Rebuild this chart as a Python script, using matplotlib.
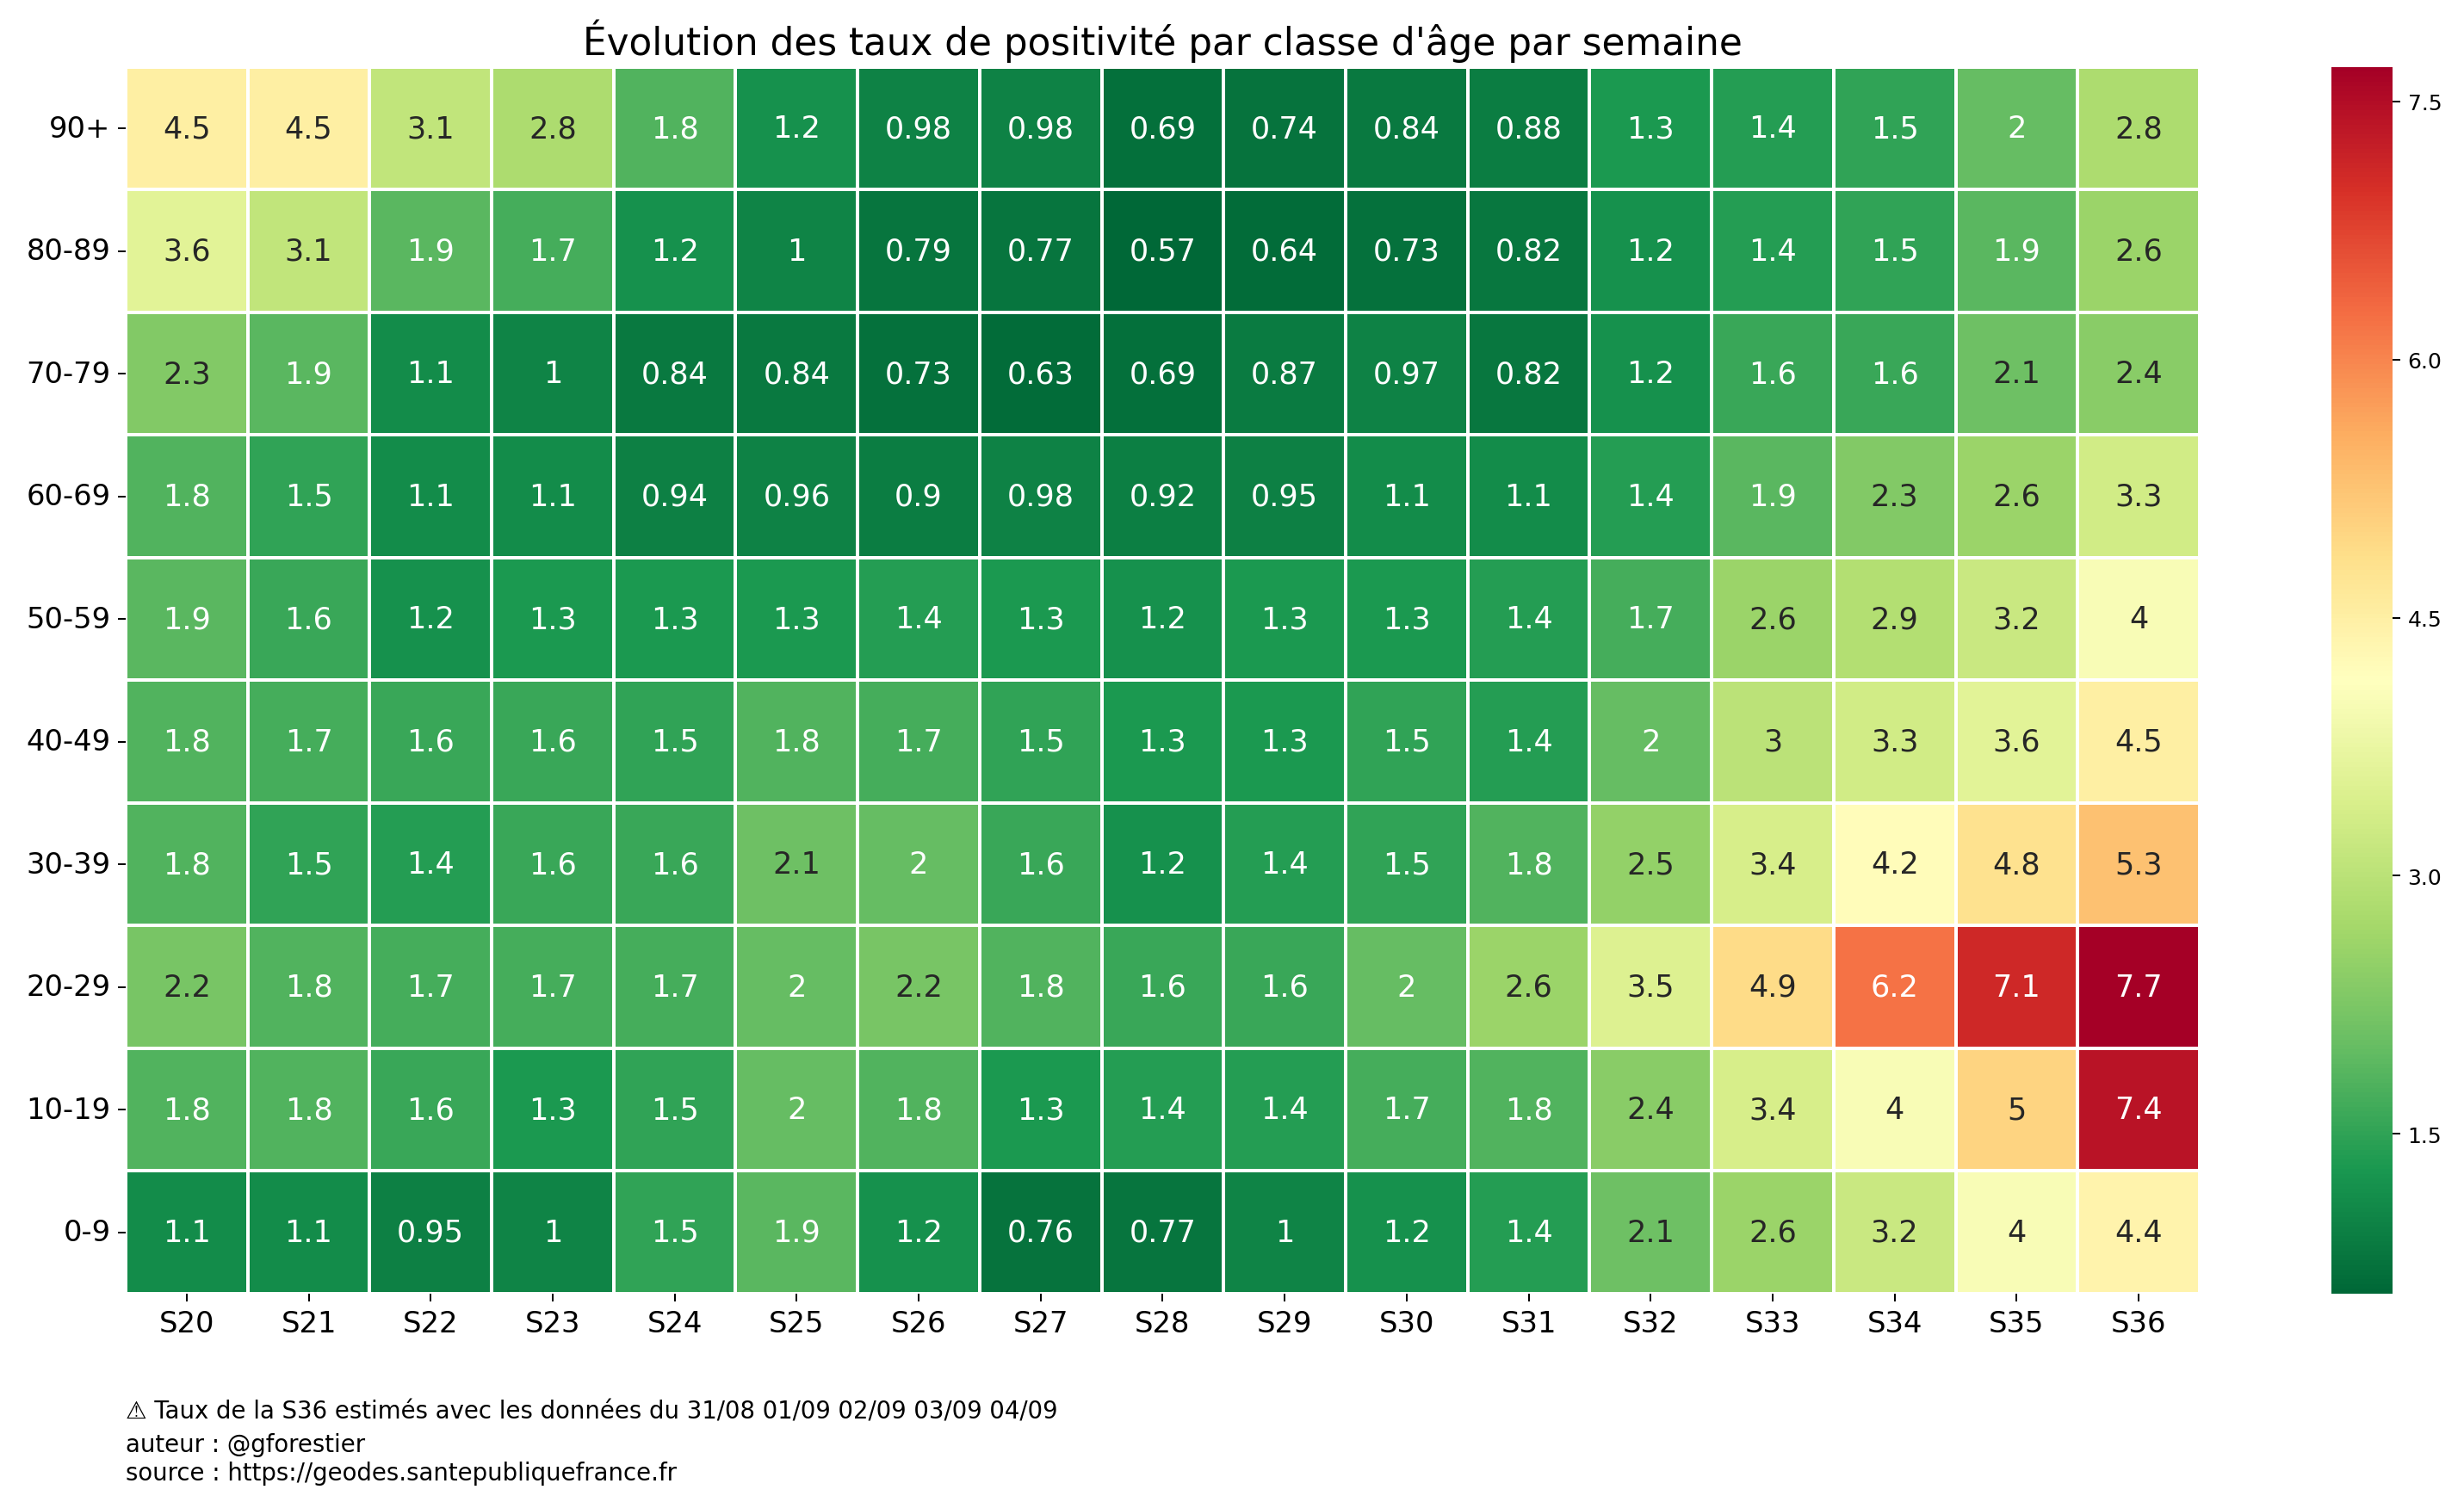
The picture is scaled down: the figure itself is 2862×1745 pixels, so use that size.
import numpy as np
import pandas as pd
import matplotlib
matplotlib.use("Agg")
import matplotlib.pyplot as plt
import seaborn as sns
from matplotlib.ticker import MultipleLocator, FormatStrFormatter

semaines = ["S20", "S21", "S22", "S23", "S24", "S25", "S26", "S27", "S28",
            "S29", "S30", "S31", "S32", "S33", "S34", "S35", "S36"]
classes = ["90+", "80-89", "70-79", "60-69", "50-59", "40-49",
           "30-39", "20-29", "10-19", "0-9"]

t_90 = [4.5, 4.5, 3.1, 2.8, 1.8, 1.2, 0.98, 0.98, 0.69, 0.74, 0.84, 0.88, 1.3, 1.4, 1.5, 2, 2.8]
t_80 = [3.6, 3.1, 1.9, 1.7, 1.2, 1, 0.79, 0.77, 0.57, 0.64, 0.73, 0.82, 1.2, 1.4, 1.5, 1.9, 2.6]
t_70 = [2.3, 1.9, 1.1, 1, 0.84, 0.84, 0.73, 0.63, 0.69, 0.87, 0.97, 0.82, 1.2, 1.6, 1.6, 2.1, 2.4]
t_60 = [1.8, 1.5, 1.1, 1.1, 0.94, 0.96, 0.9, 0.98, 0.92, 0.95, 1.1, 1.1, 1.4, 1.9, 2.3, 2.6, 3.3]
t_50 = [1.9, 1.6, 1.2, 1.3, 1.3, 1.3, 1.4, 1.3, 1.2, 1.3, 1.3, 1.4, 1.7, 2.6, 2.9, 3.2, 4]
t_40 = [1.8, 1.7, 1.6, 1.6, 1.5, 1.8, 1.7, 1.5, 1.3, 1.3, 1.5, 1.4, 2, 3, 3.3, 3.6, 4.5]
t_30 = [1.8, 1.5, 1.4, 1.6, 1.6, 2.1, 2, 1.6, 1.2, 1.4, 1.5, 1.8, 2.5, 3.4, 4.2, 4.8, 5.3]
t_20 = [2.2, 1.8, 1.7, 1.7, 1.7, 2, 2.2, 1.8, 1.6, 1.6, 2, 2.6, 3.5, 4.9, 6.2, 7.1, 7.7]
t_10 = [1.8, 1.8, 1.6, 1.3, 1.5, 2, 1.8, 1.3, 1.4, 1.4, 1.7, 1.8, 2.4, 3.4, 4, 5, 7.4]
t_0 = [1.1, 1.1, 0.95, 1, 1.5, 1.9, 1.2, 0.76, 0.77, 1, 1.2, 1.4, 2.1, 2.6, 3.2, 4, 4.4]

df = pd.DataFrame([t_90, t_80, t_70, t_60, t_50, t_40, t_30, t_20, t_10, t_0],
                  index=classes, columns=semaines)

fig = plt.figure(figsize=(15.9, 9.7), dpi=180)
ax = fig.add_axes([0.051, 0.1386, 0.8417, 0.8162])
cax = fig.add_axes([0.9462, 0.1386, 0.0248, 0.8162])

sns.heatmap(df, ax=ax, cbar_ax=cax, cmap="RdYlGn_r", annot=True, fmt=".2g",
            linewidths=1.5, linecolor="white", annot_kws={"fontsize": 14})

ax.set_title("Évolution des taux de positivité par classe d'âge par semaine", fontsize=17.5)
ax.tick_params(axis="both", labelsize=13.5)
plt.setp(ax.get_yticklabels(), rotation=0)
plt.setp(ax.get_xticklabels(), rotation=0)

# colorbar : graduations tous les 1.5
cax.yaxis.set_major_locator(MultipleLocator(1.5))
cax.yaxis.set_major_formatter(FormatStrFormatter("%.1f"))
cax.tick_params(labelsize=10)

fig.text(0.051, 0.0561, "⚠ Taux de la S36 estimés avec les données du 31/08 01/09 02/09 03/09 04/09",
         fontsize=11)
fig.text(0.051, 0.0338, "auteur : @gforestier", fontsize=11)
fig.text(0.051, 0.0149, "source : https://geodes.santepubliquefrance.fr", fontsize=11)

fig.savefig("out.png", dpi=180)
